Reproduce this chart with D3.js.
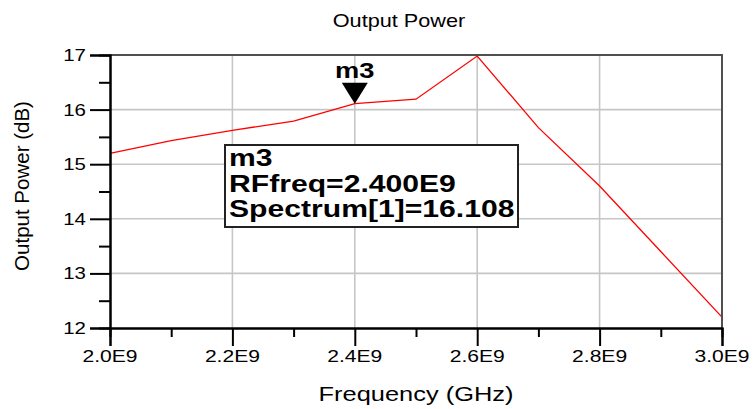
<!DOCTYPE html>
<html>
<head>
<meta charset="utf-8">
<script src="https://cdn.jsdelivr.net/npm/d3@7"></script>
<style>
  body { margin: 0; background: #fff; }
  text { font-family: "Liberation Sans", Arial, sans-serif; fill: #000; }
</style>
</head>
<body>
<svg id="chart"></svg>
<script>
// data (frequency in units of 1E9 Hz)
var freqs = [2.0, 2.1, 2.2, 2.3, 2.4, 2.5, 2.6, 2.7, 2.8, 2.9, 3.0];
var power = [15.2, 15.43, 15.62, 15.79, 16.108, 16.19, 16.98, 15.67, 14.6, 13.4, 12.2];

var xTicks = [2.0, 2.2, 2.4, 2.6, 2.8, 3.0];
var xTickLabels = ["2.0E9", "2.2E9", "2.4E9", "2.6E9", "2.8E9", "3.0E9"];
var xMinorTicks = [2.1, 2.3, 2.5, 2.7, 2.9];
var yTicks = [12, 13, 14, 15, 16, 17];
var yMinorTicks = [12.5, 13.5, 14.5, 15.5, 16.5];

var markerName = "m3";
var markerIndex = 4;

var width = 753,
    height = 409,
    plotLeft = 110, plotRight = 722, plotTop = 55, plotBottom = 328,
    sx = 1.24; // the source picture is stretched sideways

var svg = d3.select("#chart").attr("width", width).attr("height", height);

var x = d3.scaleLinear().domain([2.0, 3.0]).range([plotLeft, plotRight]);
var y = d3.scaleLinear().domain([12, 17]).range([plotBottom, plotTop]);

// text helper, stretched horizontally like the original
function label(str, px, py, size, anchor, weight) {
    return svg.append("text")
        .attr("transform", "translate(" + px + "," + py + ") scale(" + sx + ",1)")
        .attr("text-anchor", anchor || "start")
        .style("font-size", size + "px")
        .style("font-weight", weight || "normal")
        .text(str);
}

// grid
svg.append("g").selectAll("line")
    .data(xTicks.slice(1, -1))
    .enter().append("line")
    .attr("x1", function(d) { return x(d); })
    .attr("x2", function(d) { return x(d); })
    .attr("y1", plotTop).attr("y2", plotBottom)
    .style("stroke", "#c6c6c6").style("stroke-width", 1.6);

svg.append("g").selectAll("line")
    .data(yTicks.slice(1, -1))
    .enter().append("line")
    .attr("y1", function(d) { return y(d); })
    .attr("y2", function(d) { return y(d); })
    .attr("x1", plotLeft).attr("x2", plotRight)
    .style("stroke", "#c6c6c6").style("stroke-width", 1.6);

// trace
var line = d3.line()
    .x(function(d, i) { return x(freqs[i]); })
    .y(function(d) { return y(d); });

svg.append("path")
    .datum(power)
    .attr("d", line)
    .style("fill", "none")
    .style("stroke", "#ff0000")
    .style("stroke-width", 1.3);

// frame top / right
svg.append("path")
    .attr("d", "M" + plotLeft + "," + plotTop + "H" + plotRight + "V" + plotBottom)
    .style("fill", "none").style("stroke", "#505050").style("stroke-width", 2);

// axes
var yAxis = d3.axisLeft(y).tickValues(yTicks).tickSize(20).tickFormat("");
var yMinor = d3.axisLeft(y).tickValues(yMinorTicks).tickSize(11).tickFormat("");
var xAxis = d3.axisBottom(x).tickValues(xTicks).tickSize(18).tickFormat("");
var xMinor = d3.axisBottom(x).tickValues(xMinorTicks).tickSize(9).tickFormat("");

[svg.append("g").attr("transform", "translate(" + plotLeft + ",0)").call(yAxis),
 svg.append("g").attr("transform", "translate(" + plotLeft + ",0)").call(yMinor),
 svg.append("g").attr("transform", "translate(0," + plotBottom + ")").call(xAxis),
 svg.append("g").attr("transform", "translate(0," + plotBottom + ")").call(xMinor)]
.forEach(function(g) {
    g.select(".domain").style("stroke", "#000").style("stroke-width", 2);
    g.selectAll(".tick line").style("stroke", "#000").style("stroke-width", 2);
});

// tick labels
yTicks.forEach(function(d) {
    label(d, 86, y(d) + 6, 16.5, "end");
});
xTicks.forEach(function(d, i) {
    label(xTickLabels[i], x(d), 362, 17, "middle");
});

// titles
label("Output Power", 399, 27, 17.5, "middle");
label("Frequency (GHz)", 416, 401, 20.5, "middle");
svg.append("text")
    .attr("transform", "translate(29,186) rotate(-90)")
    .attr("text-anchor", "middle")
    .style("font-size", "20.5px")
    .text("Output Power (dB)");

// marker
var mx = x(freqs[markerIndex]), my = y(power[markerIndex]);
svg.append("path")
    .attr("d", "M" + (mx - 13) + "," + (my - 21) + "L" + (mx + 13) + "," + (my - 21) + "L" + mx + "," + my + "Z")
    .style("fill", "#000");
label(markerName, mx, my - 26, 22, "middle", "bold");

// readout box
svg.append("rect")
    .attr("x", 225).attr("y", 145)
    .attr("width", 293).attr("height", 82)
    .style("fill", "#fff").style("stroke", "#222").style("stroke-width", 2);

var boxLines = [
    markerName,
    "RFfreq=" + freqs[markerIndex].toFixed(3) + "E9",
    "Spectrum[1]=" + power[markerIndex].toFixed(3)
];
boxLines.forEach(function(s, i) {
    label(s, 229, 166 + i * 25.5, 24.3, "start", "bold");
});
</script>
</body>
</html>
